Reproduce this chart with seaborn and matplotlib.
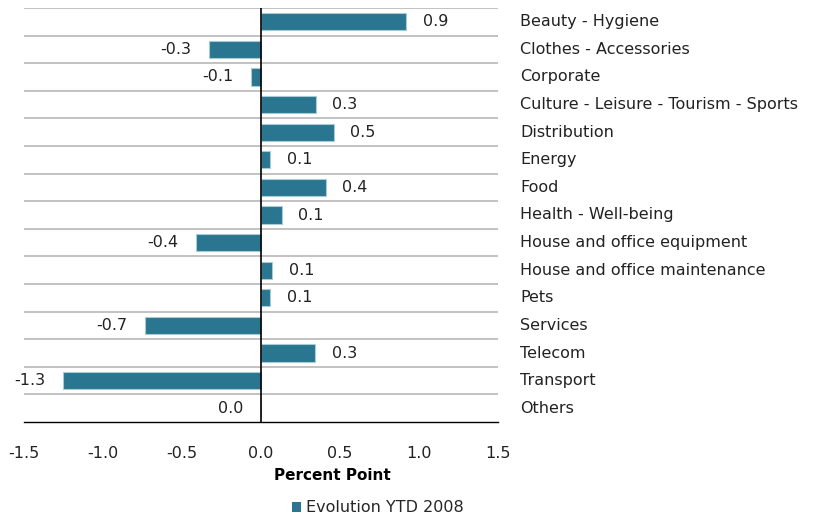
import pandas as pd
import seaborn as sns
import matplotlib.pyplot as plt
from matplotlib.patches import Patch

sectors = ['Beauty - Hygiene', 'Clothes - Accessories', 'Corporate',
           'Culture - Leisure - Tourism - Sports', 'Distribution', 'Energy',
           'Food', 'Health - Well-being', 'House and office equipment',
           'House and office maintenance', 'Pets', 'Services', 'Telecom',
           'Transport', 'Others']
evolution = [0.92, -0.33, -0.065, 0.345, 0.46, 0.057, 0.41, 0.13, -0.41,
             0.07, 0.057, -0.735, 0.342, -1.252, 0.0]
xticks = [-1.5, -1.0, -0.5, 0.0, 0.5, 1.0, 1.5]

bar_color = '#2a7590'
fs = 11.5

sns.set_style('white')
plt.rcParams['font.family'] = ['DejaVu Sans']

data = pd.DataFrame({'Sector': sectors, 'Evolution': evolution})

fig = plt.figure(figsize=(8.17, 5.19), dpi=100)
ax = fig.add_axes([24 / 817, 1 - 422 / 519, 474 / 817, 414 / 519])

sns.barplot(data=data, x='Evolution', y='Sector', orient='h', color=bar_color,
            saturation=1, width=0.62, edgecolor='#a9cbd6', linewidth=0.8, ax=ax)

ax.set_xlim(-1.5, 1.5)
ax.set_ylim(len(sectors) - 0.5, -0.5)
ax.set_xticks(xticks)
ax.set_xticklabels([f'{t:.1f}' for t in xticks], fontsize=fs, color='#222222')
ax.tick_params(axis='x', direction='out', length=5, width=1, pad=12, color='black')

# row separators
ax.set_yticks([i - 0.5 for i in range(len(sectors))], minor=True)
ax.set_yticks([])
ax.grid(True, axis='y', which='minor', color='#b8b8b8', linewidth=1.2)
ax.tick_params(axis='y', which='both', length=0)
ax.set_ylabel('')

for s in ['top', 'right', 'left']:
    ax.spines[s].set_visible(False)
ax.spines['bottom'].set_color('black')
ax.spines['bottom'].set_linewidth(1)
ax.axvline(0, color='black', linewidth=1.2, zorder=5)

# value labels and category names
name_x = (520 - 24) / 474
for i, (name, v) in enumerate(zip(sectors, evolution)):
    if v > 0:
        ax.annotate(f'{v:.1f}', (v, i), xytext=(12, 0), textcoords='offset points',
                    ha='left', va='center', fontsize=fs, color='#222222')
    else:
        ax.annotate(f'{v:.1f}' if v != 0 else '0.0', (v, i), xytext=(-12.5, 0),
                    textcoords='offset points', ha='right', va='center',
                    fontsize=fs, color='#222222')
    ax.text(name_x, i, name, transform=ax.get_yaxis_transform(), fontsize=fs,
            color='#222222', va='center', ha='left')

ax.set_xlabel('')
fig.text(332 / 817, 1 - 476 / 519, 'Percent Point', fontsize=fs - 0.5, fontweight='bold',
         ha='center', va='center', color='black')

fig.legend(handles=[Patch(facecolor=bar_color, edgecolor='none', label='Evolution YTD 2008')],
           loc='center', bbox_to_anchor=(378 / 817, 1 - 508 / 519), frameon=False,
           fontsize=fs, handlelength=0.55, handleheight=0.55, handletextpad=0.3)

fig.savefig('out.png', dpi=100)
